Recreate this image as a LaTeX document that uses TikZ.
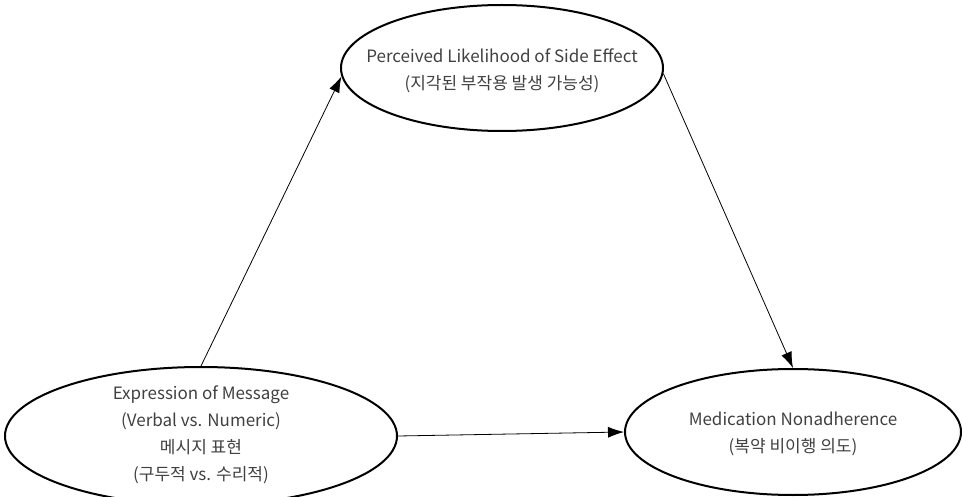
\documentclass[tikz,border=0pt]{standalone}
\usepackage{fontspec}
\setmainfont{Noto Sans CJK KR}
\usetikzlibrary{shapes.geometric,arrows.meta}
\definecolor{txt}{HTML}{404040}
\tikzset{
  oval/.style={ellipse, draw=black, line width=2pt, inner sep=0pt},
  lbl/.style={align=center, text=txt, inner sep=0pt, font=\fontsize{17}{27}\selectfont},
  link/.style={draw=black, line width=0.8pt, -{Latex[length=16pt,width=11pt]}}
}
\begin{document}
\begin{tikzpicture}[x=1pt,y=-1pt]
\useasboundingbox (0,0) rectangle (962,497);
\node[oval, minimum width=322pt, minimum height=126pt] (top) at (502,68) {};
\node[oval, minimum width=392pt, minimum height=138pt] (bl) at (201,436) {};
\node[oval, minimum width=336pt, minimum height=126pt] (br) at (793,432) {};
\node[lbl] (toptext) at (502,71) {Perceived Likelihood of Side Effect\\(지각된 부작용 발생 가능성)};
\node[lbl] (bltext) at (201,435) {Expression of Message\\(Verbal vs. Numeric)\\메시지 표현\\(구두적 vs. 수리적)};
\node[lbl] (brtext) at (793,434) {Medication Nonadherence\\(복약 비이행 의도)};
\draw[link] (bl.north) -- (top.183);
\draw[link] (top.-2) -- (br.north);
\draw[link] (bl.east) -- (br.west);
\end{tikzpicture}
\end{document}
